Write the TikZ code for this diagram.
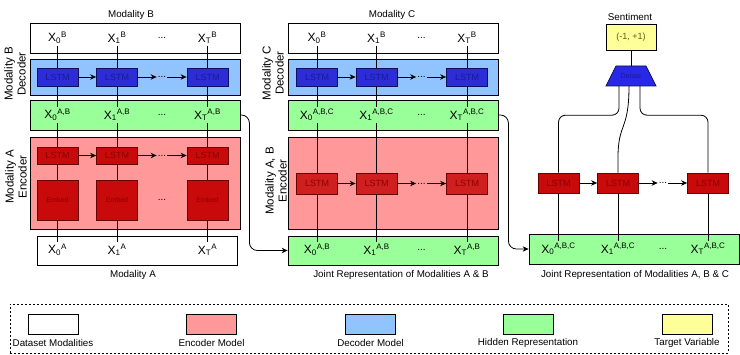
\documentclass[tikz,border=0pt]{standalone}
\usepackage{fontspec}
\setmainfont{Liberation Sans}
\usetikzlibrary{arrows.meta,calc}
\definecolor{decblue}{RGB}{145,195,255}
\definecolor{encred}{RGB}{255,153,153}
\definecolor{hidgreen}{RGB}{153,255,153}
\definecolor{tgtyellow}{RGB}{255,255,153}
\definecolor{lstmblue}{RGB}{45,45,215}
\definecolor{lstmblueline}{RGB}{15,15,95}
\definecolor{lstmbluetext}{RGB}{25,25,150}
\definecolor{lstmred}{RGB}{200,10,10}
\definecolor{lstmredline}{RGB}{105,0,0}
\definecolor{lstmredtext}{RGB}{140,0,0}
\definecolor{densefill}{RGB}{40,40,230}
\definecolor{yellowtext}{RGB}{95,95,20}
\newcommand{\xv}[2]{X\textsubscript{#1}\textsuperscript{#2}}
\begin{document}
\begin{tikzpicture}[x=1pt,y=-1pt,
  every node/.style={inner sep=1.5pt},
  container/.style={draw=black, line width=0.8pt, minimum width=210, minimum height=#1, inner sep=0pt},
  xlab/.style={font=\fontsize{12}{14}\selectfont, inner sep=1.5pt},
  lbl/.style={font=\fontsize{9.8}{11}\selectfont},
  side/.style={font=\fontsize{11.5}{13}\selectfont, rotate=90, align=center},
  lstmb/.style={draw=lstmblueline, line width=0.8pt, fill=lstmblue, minimum width=41, minimum height=18, inner sep=0pt, text=lstmbluetext, font=\fontsize{9}{10}\selectfont},
  lstmr/.style={draw=lstmredline, line width=0.8pt, fill=lstmred, minimum width=41, minimum height=#1, inner sep=0pt, text=lstmredtext, font=\fontsize{9}{10}\selectfont},
  embedbox/.style={draw=lstmredline, line width=0.8pt, fill=lstmred, minimum width=41, minimum height=40, inner sep=0pt, text=lstmredtext, font=\fontsize{7}{8}\selectfont},
  dots/.style={font=\fontsize{10}{12}\selectfont, inner sep=1pt},
  conn/.style={draw=black, line width=0.8pt},
  arr/.style={draw=black, line width=0.8pt, -{Stealth[length=6,width=5.5]}},
  legbox/.style={draw=black, line width=0.8pt, minimum width=50, minimum height=20, inner sep=0pt}
]
\useasboundingbox (0,0) rectangle (740,355);

% ---------------- left column ----------------
\node[lbl] (labB) at (131,15) {Modality B};
\node[container=30, fill=white] (boxB) at (135,38) {};
\node[container=36, fill=decblue] (decB) at (135,77) {};
\node[container=30, fill=hidgreen] (hidAB) at (135,115) {};
\node[container=92, fill=encred] (encA) at (135,183) {};
\node[container=29, minimum width=200, fill=white] (boxA) at (137,250.5) {};
\node[lbl] (labA) at (133,275) {Modality A};
\node[side] (sideB) at (15,74) {Modality B\\Decoder};
\node[side] (sideA) at (16,177) {Modality A\\Encoder};

\foreach \x/\i/\s in {57.5/0/0,117/1/1,207.5/2/T}{
  \node[xlab] (tB\i) at (\x,38) {\xv{\s}{B}};
  \node[lstmb] (dB\i) at (\x,77) {LSTM};
  \node[xlab] (hAB\i) at (\x,115) {\xv{\s}{A,B}};
  \node[lstmr=17] (eA\i) at (\x,155.5) {LSTM};
  \node[embedbox] (em\i) at (\x,200) {Embed};
  \node[xlab] (bA\i) at (\x,250) {\xv{\s}{A}};
  \draw[conn] (tB\i) -- (dB\i);
  \draw[conn] (dB\i) -- (hAB\i);
  \draw[conn] (hAB\i) -- (eA\i);
  \draw[conn] (eA\i) -- (em\i);
  \draw[conn] (em\i) -- (bA\i);
}
\node[dots] (tBd) at (162,38) {...};
\node[dots] (dBd) at (162,77) {...};
\node[dots] (hABd) at (162,115) {...};
\node[dots] (eAd) at (162,155.5) {...};
\node[dots] (emd) at (162,200) {...};
\draw[arr] (dB0) -- (dB1);
\draw[arr] (dB1) -- (dBd);
\draw[arr] (dBd) -- (dB2);
\draw[arr] (eA0) -- (eA1);
\draw[arr] (eA1) -- (eAd);
\draw[arr] (eAd) -- (eA2);

% ---------------- middle column ----------------
\node[lbl] (labC) at (392,15) {Modality C};
\node[container=30, fill=white] (boxC) at (393,38) {};
\node[container=36, fill=decblue] (decC) at (393,77) {};
\node[container=30, fill=hidgreen] (hidABC) at (393,115) {};
\node[container=92, fill=encred] (encAB) at (393,183) {};
\node[container=29, fill=hidgreen] (jointAB) at (393,250.5) {};
\node[lbl] (labJAB) at (401,275) {Joint Representation of Modalities A \& B};
\node[side] (sideC) at (273,73) {Modality C\\Decoder};
\node[side] (sideAB) at (276,181) {Modality A, B\\Encoder};

\foreach \x/\i/\s in {317/0/0,376.5/1/1,467/2/T}{
  \node[xlab] (tC\i) at (\x,38) {\xv{\s}{B}};
  \node[lstmb] (dC\i) at (\x,77) {LSTM};
  \node[xlab] (hABC\i) at (\x,115) {\xv{\s}{A,B,C}};
  \node[lstmr=21, fill opacity=0.85, text opacity=1] (eM\i) at (\x,183.5) {LSTM};
  \node[xlab] (jAB\i) at (\x,250) {\xv{\s}{A,B}};
  \draw[conn] (tC\i) -- (dC\i);
  \draw[conn] (dC\i) -- (hABC\i);
  \draw[conn] (hABC\i) -- (eM\i);
  \draw[conn] (eM\i) -- (jAB\i);
}
\node[dots] (tCd) at (421.5,38) {...};
\node[dots] (dCd) at (421.5,77) {...};
\node[dots] (hABCd) at (421.5,115) {...};
\node[dots] (eMd) at (421.5,183.5) {...};
\node[dots] (jABd) at (421.5,250) {...};
\draw[arr] (dC0) -- (dC1);
\draw[arr] (dC1) -- (dCd);
\draw[arr] (dCd) -- (dC2);
\draw[arr] (eM0) -- (eM1);
\draw[arr] (eM1) -- (eMd);
\draw[arr] (eMd) -- (eM2);

% ---------------- right column ----------------
\node[lbl] (labS) at (630,17) {Sentiment};
\node[draw=black, line width=0.8pt, fill=tgtyellow, minimum width=50, minimum height=26, inner sep=0pt, text=yellowtext, font=\fontsize{9}{10}\selectfont] (sent) at (631,37) {(-1, +1)};
\coordinate (dc) at (631,76);
\draw[draw=lstmblueline, line width=0.8pt, fill=densefill] ($(dc)+(-25,10)$) -- ($(dc)+(25,10)$) -- ($(dc)+(15,-10)$) -- ($(dc)+(-15,-10)$) -- cycle;
\node[minimum width=50, minimum height=20, inner sep=0pt, text=lstmbluetext, font=\fontsize{7}{8}\selectfont] (dense) at (dc) {Dense};
\node[container=30, fill=hidgreen] (jointABC) at (634,249) {};
\node[lbl] (labJABC) at (635,275) {Joint Representation of Modalities A, B \& C};

\foreach \x/\i/\s in {558.5/0/0,618/1/1,708/2/T}{
  \node[lstmr=20] (eR\i) at (\x,183) {LSTM};
  \node[xlab] (jABC\i) at (\x,249) {\xv{\s}{A,B,C}};
  \draw[conn] (eR\i) -- (jABC\i);
}
\node[dots] (eRd) at (663,183) {...};
\node[dots] (jABCd) at (663,249) {...};
\draw[arr] (eR0) -- (eR1);
\draw[arr] (eR1) -- (eRd);
\draw[arr] (eRd) -- (eR2);

\draw[conn] (sent) -- (dense);
\draw[conn, rounded corners=7] ($(dense.south)+(-12,0)$) -- ++(0,29) -| (eR0.north);
\draw[conn, rounded corners=7] ($(dense.south)+(9,0)$) -- ++(0,29) -| (eR2.north);
\draw[conn] ($(dense.south)+(-2,0)$) .. controls ($(dense.south)+(-2,45)$) and ($(eR1.north)+(0,-50)$) .. ($(eR1.north)+(0,-15)$) -- (eR1.north);

% ---------------- cross connectors ----------------
\draw[arr, rounded corners=8] (hidAB.east) -- ++(9,0) |- (jointAB.west);
\draw[arr, rounded corners=8] (hidABC.east) -- ++(10,0) |- (jointABC.west);

% ---------------- legend ----------------
\node[draw=black, line width=0.8pt, dash pattern=on 2pt off 2pt, minimum width=718, minimum height=49, inner sep=0pt] (legend) at (369,328.5) {};
\node[legbox, fill=white] (lg1) at (53,324) {};
\node[legbox, fill=encred] (lg2) at (211.5,324) {};
\node[legbox, fill=decblue] (lg3) at (370.5,324) {};
\node[legbox, fill=hidgreen] (lg4) at (528,324) {};
\node[legbox, fill=tgtyellow] (lg5) at (687,324) {};
\node[lbl] (lt1) at (53,343) {Dataset Modalities};
\node[lbl] (lt2) at (211.5,343) {Encoder Model};
\node[lbl] (lt3) at (370.5,343) {Decoder Model};
\node[lbl] (lt4) at (528,343) {Hidden Representation};
\node[lbl] (lt5) at (687,343) {Target Variable};
\end{tikzpicture}
\end{document}
